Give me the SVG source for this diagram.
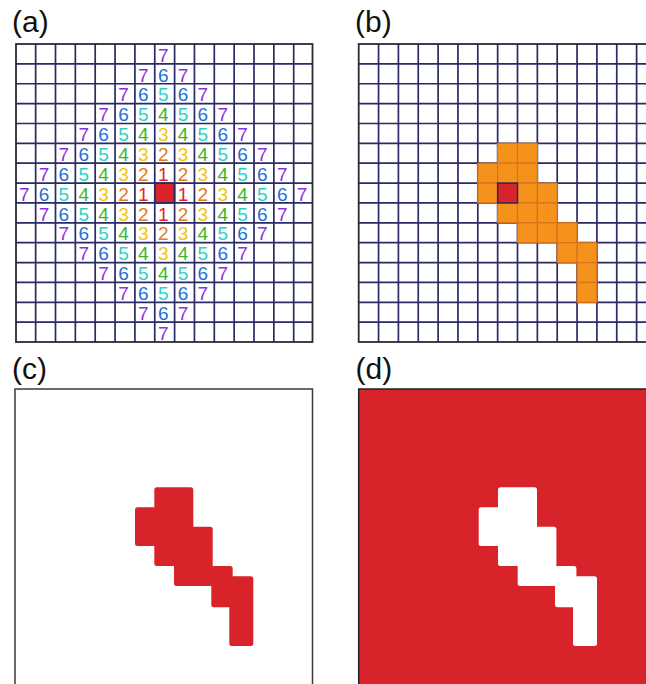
<svg xmlns="http://www.w3.org/2000/svg" width="646" height="684" viewBox="0 0 646 684">
<style>
.lbl{font-family:"Liberation Sans",Arial,sans-serif;font-size:30px;fill:#111}
.num{font-family:"Liberation Sans",Arial,sans-serif;font-size:19px;text-anchor:middle}
.grid{fill:none;stroke:#2a2a66;stroke-width:1.7}
.border{fill:none;stroke:#2a2a3a;stroke-width:1.8}
.d1{fill:#e2232a}.d2{fill:#e47a1e}.d3{fill:#f2c40c}.d4{fill:#3db52a}.d5{fill:#2ed0c6}.d6{fill:#1f6fd6}.d7{fill:#8a30e0}
.or{fill:#f5921b;stroke:#d9731a;stroke-width:1.2}
.red{fill:#d8232a}
.center{fill:#d8232a;stroke:#2a2a55;stroke-width:1.5}
</style>
<rect width="646" height="684" fill="#fff"/>

<g id="panel-a">
<text class="lbl" x="12" y="32">(a)</text>
<rect class="center" x="154.75" y="183.09" width="19.85" height="19.87"/>
<path class="grid" d="M35.65 44V342M55.5 44V342M75.35 44V342M95.2 44V342M115.05 44V342M134.9 44V342M154.75 44V342M174.6 44V342M194.45 44V342M214.3 44V342M234.15 44V342M254 44V342M273.85 44V342M293.7 44V342M16 63.87H312.5M16 83.74H312.5M16 103.61H312.5M16 123.48H312.5M16 143.35H312.5M16 163.22H312.5M16 183.09H312.5M16 202.96H312.5M16 222.83H312.5M16 242.7H312.5M16 262.57H312.5M16 282.44H312.5M16 302.31H312.5M16 322.18H312.5"/>
<rect class="border" x="16" y="44" width="296.5" height="298"/>
<g id="numbers">
<text class="num d7" x="163.2" y="61.6">7</text>
<text class="num d7" x="143.3" y="81.5">7</text><text class="num d6" x="163.2" y="81.5">6</text><text class="num d7" x="183" y="81.5">7</text>
<text class="num d7" x="123.5" y="101.3">7</text><text class="num d6" x="143.3" y="101.3">6</text><text class="num d5" x="163.2" y="101.3">5</text><text class="num d6" x="183" y="101.3">6</text><text class="num d7" x="202.9" y="101.3">7</text>
<text class="num d7" x="103.6" y="121.2">7</text><text class="num d6" x="123.5" y="121.2">6</text><text class="num d5" x="143.3" y="121.2">5</text><text class="num d4" x="163.2" y="121.2">4</text><text class="num d5" x="183" y="121.2">5</text><text class="num d6" x="202.9" y="121.2">6</text><text class="num d7" x="222.7" y="121.2">7</text>
<text class="num d7" x="83.8" y="141.1">7</text><text class="num d6" x="103.6" y="141.1">6</text><text class="num d5" x="123.5" y="141.1">5</text><text class="num d4" x="143.3" y="141.1">4</text><text class="num d3" x="163.2" y="141.1">3</text><text class="num d4" x="183" y="141.1">4</text><text class="num d5" x="202.9" y="141.1">5</text><text class="num d6" x="222.7" y="141.1">6</text><text class="num d7" x="242.6" y="141.1">7</text>
<text class="num d7" x="63.9" y="161">7</text><text class="num d6" x="83.8" y="161">6</text><text class="num d5" x="103.6" y="161">5</text><text class="num d4" x="123.5" y="161">4</text><text class="num d3" x="143.3" y="161">3</text><text class="num d2" x="163.2" y="161">2</text><text class="num d3" x="183" y="161">3</text><text class="num d4" x="202.9" y="161">4</text><text class="num d5" x="222.7" y="161">5</text><text class="num d6" x="242.6" y="161">6</text><text class="num d7" x="262.4" y="161">7</text>
<text class="num d7" x="44.1" y="180.8">7</text><text class="num d6" x="63.9" y="180.8">6</text><text class="num d5" x="83.8" y="180.8">5</text><text class="num d4" x="103.6" y="180.8">4</text><text class="num d3" x="123.5" y="180.8">3</text><text class="num d2" x="143.3" y="180.8">2</text><text class="num d1" x="163.2" y="180.8">1</text><text class="num d2" x="183" y="180.8">2</text><text class="num d3" x="202.9" y="180.8">3</text><text class="num d4" x="222.7" y="180.8">4</text><text class="num d5" x="242.6" y="180.8">5</text><text class="num d6" x="262.4" y="180.8">6</text><text class="num d7" x="282.3" y="180.8">7</text>
<text class="num d7" x="24.2" y="200.7">7</text><text class="num d6" x="44.1" y="200.7">6</text><text class="num d5" x="63.9" y="200.7">5</text><text class="num d4" x="83.8" y="200.7">4</text><text class="num d3" x="103.6" y="200.7">3</text><text class="num d2" x="123.5" y="200.7">2</text><text class="num d1" x="143.3" y="200.7">1</text><text class="num d1" x="183" y="200.7">1</text><text class="num d2" x="202.9" y="200.7">2</text><text class="num d3" x="222.7" y="200.7">3</text><text class="num d4" x="242.6" y="200.7">4</text><text class="num d5" x="262.4" y="200.7">5</text><text class="num d6" x="282.3" y="200.7">6</text><text class="num d7" x="302.1" y="200.7">7</text>
<text class="num d7" x="44.1" y="220.6">7</text><text class="num d6" x="63.9" y="220.6">6</text><text class="num d5" x="83.8" y="220.6">5</text><text class="num d4" x="103.6" y="220.6">4</text><text class="num d3" x="123.5" y="220.6">3</text><text class="num d2" x="143.3" y="220.6">2</text><text class="num d1" x="163.2" y="220.6">1</text><text class="num d2" x="183" y="220.6">2</text><text class="num d3" x="202.9" y="220.6">3</text><text class="num d4" x="222.7" y="220.6">4</text><text class="num d5" x="242.6" y="220.6">5</text><text class="num d6" x="262.4" y="220.6">6</text><text class="num d7" x="282.3" y="220.6">7</text>
<text class="num d7" x="63.9" y="240.4">7</text><text class="num d6" x="83.8" y="240.4">6</text><text class="num d5" x="103.6" y="240.4">5</text><text class="num d4" x="123.5" y="240.4">4</text><text class="num d3" x="143.3" y="240.4">3</text><text class="num d2" x="163.2" y="240.4">2</text><text class="num d3" x="183" y="240.4">3</text><text class="num d4" x="202.9" y="240.4">4</text><text class="num d5" x="222.7" y="240.4">5</text><text class="num d6" x="242.6" y="240.4">6</text><text class="num d7" x="262.4" y="240.4">7</text>
<text class="num d7" x="83.8" y="260.3">7</text><text class="num d6" x="103.6" y="260.3">6</text><text class="num d5" x="123.5" y="260.3">5</text><text class="num d4" x="143.3" y="260.3">4</text><text class="num d3" x="163.2" y="260.3">3</text><text class="num d4" x="183" y="260.3">4</text><text class="num d5" x="202.9" y="260.3">5</text><text class="num d6" x="222.7" y="260.3">6</text><text class="num d7" x="242.6" y="260.3">7</text>
<text class="num d7" x="103.6" y="280.2">7</text><text class="num d6" x="123.5" y="280.2">6</text><text class="num d5" x="143.3" y="280.2">5</text><text class="num d4" x="163.2" y="280.2">4</text><text class="num d5" x="183" y="280.2">5</text><text class="num d6" x="202.9" y="280.2">6</text><text class="num d7" x="222.7" y="280.2">7</text>
<text class="num d7" x="123.5" y="300">7</text><text class="num d6" x="143.3" y="300">6</text><text class="num d5" x="163.2" y="300">5</text><text class="num d6" x="183" y="300">6</text><text class="num d7" x="202.9" y="300">7</text>
<text class="num d7" x="143.3" y="319.9">7</text><text class="num d6" x="163.2" y="319.9">6</text><text class="num d7" x="183" y="319.9">7</text>
<text class="num d7" x="163.2" y="339.8">7</text>
</g>
</g>

<g id="panel-b">
<text class="lbl" x="355" y="32">(b)</text>
<path class="grid" d="M378.55 44V342M398.4 44V342M418.25 44V342M438.1 44V342M457.95 44V342M477.8 44V342M497.65 44V342M517.5 44V342M537.35 44V342M557.2 44V342M577.05 44V342M596.9 44V342M616.75 44V342M636.6 44V342M358.7 63.87H646M358.7 83.74H646M358.7 103.61H646M358.7 123.48H646M358.7 143.35H646M358.7 163.22H646M358.7 183.09H646M358.7 202.96H646M358.7 222.83H646M358.7 242.7H646M358.7 262.57H646M358.7 282.44H646M358.7 302.31H646M358.7 322.18H646"/>
<rect class="border" x="358.7" y="44" width="300" height="298"/>
<g id="region">
<rect class="or" x="497.65" y="143.35" width="19.85" height="19.87"/>
<rect class="or" x="517.5" y="143.35" width="19.85" height="19.87"/>
<rect class="or" x="477.8" y="163.22" width="19.85" height="19.87"/>
<rect class="or" x="497.65" y="163.22" width="19.85" height="19.87"/>
<rect class="or" x="517.5" y="163.22" width="19.85" height="19.87"/>
<rect class="or" x="477.8" y="183.09" width="19.85" height="19.87"/>
<rect class="or" x="517.5" y="183.09" width="19.85" height="19.87"/>
<rect class="or" x="537.35" y="183.09" width="19.85" height="19.87"/>
<rect class="or" x="497.65" y="202.96" width="19.85" height="19.87"/>
<rect class="or" x="517.5" y="202.96" width="19.85" height="19.87"/>
<rect class="or" x="537.35" y="202.96" width="19.85" height="19.87"/>
<rect class="or" x="517.5" y="222.83" width="19.85" height="19.87"/>
<rect class="or" x="537.35" y="222.83" width="19.85" height="19.87"/>
<rect class="or" x="557.2" y="222.83" width="19.85" height="19.87"/>
<rect class="or" x="557.2" y="242.7" width="19.85" height="19.87"/>
<rect class="or" x="577.05" y="242.7" width="19.85" height="19.87"/>
<rect class="or" x="577.05" y="262.57" width="19.85" height="19.87"/>
<rect class="or" x="577.05" y="282.44" width="19.85" height="19.87"/>
<rect class="center" x="497.65" y="183.09" width="19.85" height="19.87"/>
</g>
</g>

<g id="panel-c">
<text class="lbl" x="12" y="379">(c)</text>
<rect x="15" y="389" width="297.5" height="310" fill="#fff" stroke="#3a3a3a" stroke-width="1.5"/>
<g id="mask-c" class="red">
<rect x="154.3" y="487.3" width="39" height="78.7" rx="2.5"/>
<rect x="135" y="507.3" width="21" height="38.7" rx="2.5"/>
<rect x="174" y="526.7" width="38.7" height="59.3" rx="2.5"/>
<rect x="211.3" y="566" width="21.4" height="41.3" rx="2.5"/>
<rect x="229.3" y="576.3" width="24" height="69.7" rx="2.5"/>
</g>
</g>

<g id="panel-d">
<text class="lbl" x="355.5" y="379">(d)</text>
<rect x="358.7" y="389" width="300" height="310" fill="#d8232a" stroke="#222" stroke-width="1.5"/>
<g id="mask-d" fill="#fff">
<rect x="498" y="487.3" width="39" height="78.7" rx="2.5"/>
<rect x="478.7" y="507.3" width="21" height="38.7" rx="2.5"/>
<rect x="517.7" y="526.7" width="38.7" height="59.3" rx="2.5"/>
<rect x="555" y="566" width="21.4" height="41.3" rx="2.5"/>
<rect x="573" y="576.3" width="24" height="69.7" rx="2.5"/>
</g>
</g>
</svg>
